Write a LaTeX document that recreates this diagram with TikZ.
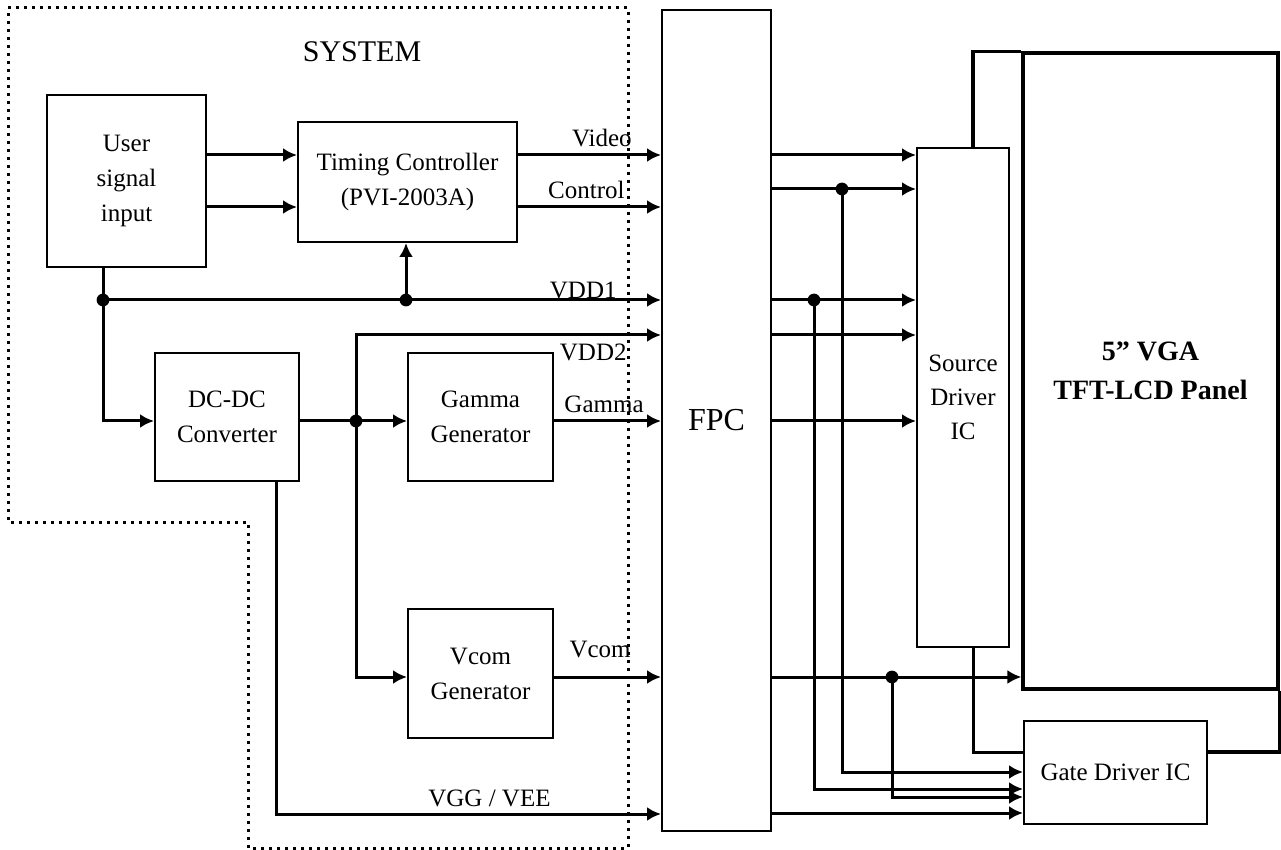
\documentclass[tikz,border=0pt]{standalone}
\usepackage{fontspec}
\setmainfont{Liberation Serif}
\usetikzlibrary{arrows.meta}
\newcommand\fsn{\fontsize{12.5}{17.5}\selectfont}
\begin{document}
\begin{tikzpicture}[x=0.5pt,y=-0.5pt,
  box/.style={draw,line width=1pt,inner sep=0pt,align=center,font=\fsn},
  wire/.style={line width=1.5pt},
  arr/.style={wire,-{Latex[length=7pt,width=7pt]}},
  dot/.style={circle,fill,inner sep=0pt,minimum size=6.4pt},
  lbl/.style={inner sep=0pt,font=\fsn,anchor=east},
  sysline/.style={line width=1.5pt,dash pattern=on 1.5pt off 2.5pt}]
\useasboundingbox (0,0) rectangle (1281,850);
\fill[white] (0,0) rectangle (1281,850);

% system boundary
\draw[sysline] (8,8) -- (628,8) -- (628,848) -- (248,848) -- (248,522) -- (8,522) -- cycle;
\node[font=\fontsize{15}{18}\selectfont,inner sep=0pt] (sys) at (362,52) {SYSTEM};

% boxes
\node[box,minimum width=79.5pt,minimum height=86pt] (user) at (126.5,181) {User\\signal\\input};
\node[box,minimum width=109.5pt,minimum height=60pt] (tc) at (407.5,182) {Timing Controller\\(PVI-2003A)};
\node[box,minimum width=72pt,minimum height=64pt] (dcdc) at (227,417) {DC-DC\\Converter};
\node[box,minimum width=72.5pt,minimum height=64pt] (gamma) at (480.5,417) {Gamma\\Generator};
\node[box,minimum width=72.5pt,minimum height=64.5pt] (vcom) at (480.5,673.5) {Vcom\\Generator};
\node[box,minimum width=54.5pt,minimum height=410.5pt,font=\fontsize{16}{19}\selectfont] (fpc) at (716.5,420.5) {FPC};
\node[box,minimum width=46pt,minimum height=249.5pt,font=\fontsize{12.5}{17}\selectfont] (src) at (963,397.5) {Source\\Driver\\IC};
\node[box,line width=1.6pt,minimum width=127.5pt,minimum height=318pt,font=\bfseries\fontsize{14}{19.5}\selectfont] (panel) at (1150.5,371) {5'' VGA\\TFT-LCD Panel};
\node[box,minimum width=91.5pt,minimum height=51.5pt] (gate) at (1115.5,772.5) {Gate Driver IC};

% junction coordinates
\coordinate (j1) at (103,300);
\coordinate (j2) at (406,300);
\coordinate (j3) at (356,421);
\coordinate (j4) at (842,189);
\coordinate (j5) at (814,300);
\coordinate (j6) at (892,677);

% left side connectors
\draw[arr] (user.east |- 0,155) -- (tc.west |- 0,155);
\draw[arr] (user.east |- 0,207) -- (tc.west |- 0,207);
\draw[arr] (tc.east |- 0,155) -- (fpc.west |- 0,155);
\draw[arr] (tc.east |- 0,207) -- (fpc.west |- 0,207);
\draw[arr] (j1 |- user.south) -- (j1) |- (dcdc.west |- 0,421);
\draw[arr] (j1) -- (fpc.west |- 0,300);
\draw[arr] (j2) -- (j2 |- tc.south);
\draw[arr] (dcdc.east |- 0,421) -- (gamma.west |- 0,421);
\draw[arr] (j3) |- (fpc.west |- 0,335);
\draw[arr] (j3) |- (vcom.west |- 0,677);
\draw[arr] (gamma.east |- 0,421) -- (fpc.west |- 0,421);
\draw[arr] (vcom.east |- 0,677) -- (fpc.west |- 0,677);
\draw[arr] (276,0 |- dcdc.south) |- (fpc.west |- 0,814);

% labels
\node[lbl] (lvideo) at (632,138) {Video};
\node[lbl] (lcontrol) at (625,190) {Control};
\node[lbl] (lvdd1) at (617,290) {VDD1};
\node[lbl] (lvdd2) at (627,352) {VDD2};
\node[lbl] (lgamma) at (644,404) {Gamma};
\node[lbl] (lvcom) at (631,650) {Vcom};
\node[lbl] (lvgg) at (551,798) {VGG / VEE};

% right side connectors
\draw[arr] (fpc.east |- 0,155) -- (src.west |- 0,155);
\draw[arr] (fpc.east |- 0,189) -- (src.west |- 0,189);
\draw[arr] (fpc.east |- 0,300) -- (src.west |- 0,300);
\draw[arr] (fpc.east |- 0,335) -- (src.west |- 0,335);
\draw[arr] (fpc.east |- 0,421) -- (src.west |- 0,421);
\draw[arr] (j4) |- (gate.west |- 0,772);
\draw[arr] (j5) |- (gate.west |- 0,789);
\draw[arr] (fpc.east |- 0,677) -- (panel.west |- 0,677);
\draw[arr] (j6) |- (gate.west |- 0,797);
\draw[arr] (fpc.east |- 0,813) -- (gate.west |- 0,813);
\draw[line width=1.6pt] (973,0 |- src.north) |- (panel.north west);
\draw[wire] (973,0 |- src.south) |- (gate.west |- 0,752);
\draw[line width=1.6pt] (gate.east |- 0,752) -| (panel.south east);

% junction dots
\node[dot] (d1) at (j1) {};
\node[dot] (d2) at (j2) {};
\node[dot] (d3) at (j3) {};
\node[dot] (d4) at (j4) {};
\node[dot] (d5) at (j5) {};
\node[dot] (d6) at (j6) {};
\end{tikzpicture}
\end{document}
